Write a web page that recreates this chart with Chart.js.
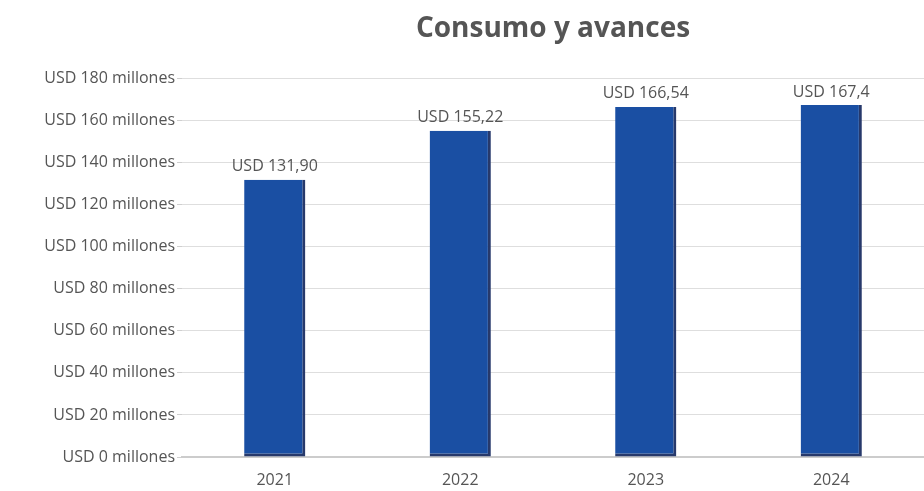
<!DOCTYPE html>
<html>
<head>
<meta charset="utf-8">
<script src="https://cdn.jsdelivr.net/npm/chart.js@4/dist/chart.umd.min.js"></script>
<style>
html,body{margin:0;padding:0;background:#fff;}
#wrap{width:924px;height:491px;position:relative;}
</style>
</head>
<body>
<div id="wrap"><canvas id="c" width="924" height="491"></canvas></div>
<script>
const categories = ["2021", "2022", "2023", "2024"];
const values = [131.90, 155.22, 166.54, 167.4];
const valueLabels = ["USD 131,90", "USD 155,22", "USD 166,54", "USD 167,4"];
const yTicks = [0, 20, 40, 60, 80, 100, 120, 140, 160, 180];
const titleText = "Consumo y avances";

const labelPlugin = {
  id: 'valueLabels',
  afterDatasetsDraw(chart) {
    const ctx = chart.ctx;
    const meta = chart.getDatasetMeta(0);
    ctx.save();
    ctx.font = '16px "Open Sans"';
    ctx.fillStyle = '#555';
    ctx.textAlign = 'center';
    ctx.textBaseline = 'bottom';
    meta.data.forEach((bar, i) => {
      ctx.fillText(valueLabels[i], bar.x, bar.y - 5);
    });
    ctx.restore();
  }
};

new Chart(document.getElementById('c'), {
  type: 'bar',
  data: {
    labels: categories,
    datasets: [{
      data: values,
      backgroundColor: '#1a4fa3',
      borderColor: '#27396b',
      borderWidth: {top: 0, left: 0, right: 3, bottom: 3},
      borderSkipped: false,
      barPercentage: 0.33,
      categoryPercentage: 1.0
    }]
  },
  options: {
    responsive: false,
    animation: false,
    layout: {padding: {top: 0, right: 0, left: 0, bottom: 0}},
    plugins: {
      legend: {display: false},
      tooltip: {enabled: false},
      title: {
        display: true,
        text: titleText,
        fullSize: false,
        color: '#555',
        font: {family: '"Open Sans"', size: 28, weight: 'bold'},
        padding: {top: 12, bottom: 33}
      }
    },
    scales: {
      x: {
        grid: {display: false, drawTicks: false},
        border: {display: true, color: '#ccc', width: 2},
        afterFit(axis) { axis.height = 34; },
        ticks: {color: '#555', font: {family: '"Open Sans"', size: 16}, padding: 14}
      },
      y: {
        min: 0, max: 180,
        afterBuildTicks(axis) { axis.ticks = yTicks.map(v => ({value: v})); },
        afterFit(axis) { axis.width = 182; },
        grid: {color: '#dedede', tickLength: 5, tickColor: '#cfcfcf'},
        border: {display: false},
        ticks: {
          color: '#555',
          font: {family: '"Open Sans"', size: 16},
          padding: 2,
          callback: (v) => 'USD ' + v + ' millones'
        }
      }
    }
  },
  plugins: [labelPlugin]
});
</script>
</body>
</html>
